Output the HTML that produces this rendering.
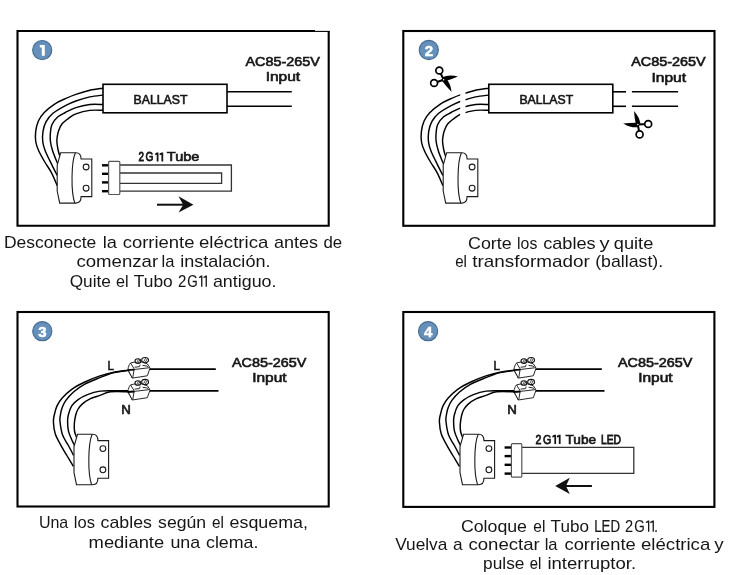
<!DOCTYPE html>
<html><head><meta charset="utf-8"><style>
html,body{margin:0;padding:0;background:#fff;overflow:hidden;}
svg{display:block;will-change:transform;}
text{font-family:"Liberation Sans",sans-serif;}
</style></head><body>
<svg width="744" height="575" viewBox="0 0 744 575">
<rect width="744" height="575" fill="#fff"/>
<path d="M315,31 L17.5,31 L17.5,225.7 L328.7,225.7 L328.7,30.9" fill="none" stroke="#000" stroke-width="2.1"/>
<line x1="314.5" y1="31.4" x2="329.7" y2="31.4" stroke="#000" stroke-width="1.1"/>
<circle cx="42.2" cy="50.1" r="9.6" fill="#6490ba" stroke="#456a90" stroke-width="1.1"/><path transform="translate(0.00,0.00)" d="M39.8,44.9 L44.8,44.9 L44.8,55.7 L41.8,55.7 L41.8,47.5 L39.8,47.5 Z" fill="#fff"/>
<g transform="translate(0,0)" fill="none" stroke="#000" stroke-width="1.45"><path d="M103.00,88.20 C100.80,88.55 94.32,89.27 89.80,90.30 C85.28,91.33 79.97,93.02 75.90,94.40 C71.83,95.78 68.88,97.03 65.40,98.60 C61.92,100.17 58.57,101.45 55.00,103.80 C51.43,106.15 46.77,109.83 44.00,112.70 C41.23,115.57 39.78,117.88 38.40,121.00 C37.02,124.12 36.13,127.90 35.70,131.40 C35.27,134.90 35.30,138.78 35.80,142.00 C36.30,145.22 37.20,147.37 38.70,150.70 C40.20,154.03 42.62,158.23 44.80,162.00 C46.98,165.77 49.73,169.33 51.80,173.30 C53.87,177.27 56.30,183.72 57.20,185.80"/><path d="M103.00,95.10 C100.80,95.40 94.32,95.92 89.80,96.90 C85.28,97.88 79.97,99.55 75.90,101.00 C71.83,102.45 69.22,103.55 65.40,105.60 C61.58,107.65 56.22,110.62 53.00,113.30 C49.78,115.98 47.77,118.68 46.10,121.70 C44.43,124.72 43.55,128.02 43.00,131.40 C42.45,134.78 42.43,138.78 42.80,142.00 C43.17,145.22 44.00,147.52 45.20,150.70 C46.40,153.88 48.00,156.97 50.00,161.10 C52.00,165.23 56.00,173.10 57.20,175.50"/><path d="M103.00,104.50 C100.80,104.50 94.32,103.98 89.80,104.50 C85.28,105.02 79.97,106.27 75.90,107.60 C71.83,108.93 68.40,110.97 65.40,112.50 C62.40,114.03 60.13,114.80 57.90,116.80 C55.67,118.80 53.27,121.60 52.00,124.50 C50.73,127.40 50.55,131.28 50.30,134.20 C50.05,137.12 50.12,139.25 50.50,142.00 C50.88,144.75 51.82,148.08 52.60,150.70 C53.38,153.32 54.32,155.45 55.20,157.70 C56.08,159.95 57.45,163.12 57.90,164.20"/><path d="M103.00,110.30 C100.80,110.32 94.32,109.80 89.80,110.40 C85.28,111.00 79.38,112.62 75.90,113.90 C72.42,115.18 71.20,116.45 68.90,118.10 C66.60,119.75 63.82,121.70 62.10,123.80 C60.38,125.90 59.42,128.50 58.60,130.70 C57.78,132.90 57.48,135.12 57.20,137.00 C56.92,138.88 56.78,140.00 56.90,142.00 C57.02,144.00 57.50,146.92 57.90,149.00 C58.30,151.08 58.90,153.17 59.30,154.50 C59.70,155.83 60.13,156.58 60.30,157.00"/></g>
<g transform="translate(0,0)" fill="#fff" stroke="#1a1a1a" stroke-width="1.1"><path d="M60.7,152.7 L75.9,152.7 C79,152.7 81.1,155 81.1,159 L91.8,159 L91.8,196.6 L81.1,196.6 C81.1,200.5 79,203.1 75.9,203.1 L59.7,203.1 L57.2,191 L57.2,165 Z"/><path d="M75.4,152.7 C71.2,162 70.8,192 74.8,203.1" fill="none"/><circle cx="86.1" cy="167" r="2.9"/><circle cx="86.1" cy="188.2" r="2.9"/></g>
<rect x="103" y="84.3" width="124" height="28.5" fill="#fff" stroke="#000" stroke-width="1.6"/><text x="133.6" y="103.5" font-family="Liberation Sans" font-size="12" fill="#161616" stroke="#161616" stroke-width="0.6" textLength="53.8" lengthAdjust="spacingAndGlyphs">BALLAST</text>
<line x1="227" y1="91.8" x2="291.8" y2="91.8" stroke="#000" stroke-width="1.6"/><line x1="227" y1="106.3" x2="291.8" y2="106.3" stroke="#000" stroke-width="1.6"/>
<text x="245.39999999999998" y="65.8" font-family="Liberation Sans" font-size="12.4" fill="#161616" stroke="#161616" stroke-width="0.6" textLength="74.5" lengthAdjust="spacingAndGlyphs">AC85-265V</text><text x="265.7" y="81.3" font-family="Liberation Sans" font-size="12.8" fill="#161616" stroke="#161616" stroke-width="0.6" textLength="34.5" lengthAdjust="spacingAndGlyphs">Input</text>
<g><line x1="102" y1="165.3" x2="108.8" y2="165.3" stroke="#000" stroke-width="2.4"/><line x1="102" y1="173.8" x2="108.8" y2="173.8" stroke="#000" stroke-width="2.4"/><line x1="102" y1="182.4" x2="108.8" y2="182.4" stroke="#000" stroke-width="2.4"/><line x1="102" y1="191.2" x2="108.8" y2="191.2" stroke="#000" stroke-width="2.4"/><path d="M119.8,165 L231.4,165 L231.4,191.2 L119.8,191.2" fill="none" stroke="#333" stroke-width="1.3"/><path d="M119.8,173 L221.6,173 L221.6,183.4 L119.8,183.4" fill="none" stroke="#333" stroke-width="1.3"/><rect x="108.6" y="161.3" width="11.2" height="33.2" rx="1" fill="#fff" stroke="#555" stroke-width="1.2"/></g><text x="138.60" y="161.3" font-family="Liberation Sans" font-size="12.3" fill="#161616" stroke="#161616" stroke-width="0.82" textLength="5.50" lengthAdjust="spacingAndGlyphs">2</text><text x="145.60" y="161.3" font-family="Liberation Sans" font-size="12.3" fill="#161616" stroke="#161616" stroke-width="0.79" textLength="7.90" lengthAdjust="spacingAndGlyphs">G</text><path d="M156.72,152.39 L158.50,152.39 L158.50,161.60 L156.72,161.60 L156.72,154.75 L155.20,155.19 L155.20,153.50 Z" fill="#161616"/><path d="M161.42,152.39 L163.20,152.39 L163.20,161.60 L161.42,161.60 L161.42,154.75 L159.60,155.19 L159.60,153.50 Z" fill="#161616"/><text x="166.80" y="161.3" font-family="Liberation Sans" font-size="12.3" fill="#161616" stroke="#161616" stroke-width="0.60" textLength="32.60" lengthAdjust="spacingAndGlyphs">Tube</text><line x1="157" y1="204.7" x2="184" y2="204.7" stroke="#111" stroke-width="2"/><path d="M193.4,204.7 L178.5,196.3 L183.2,204.7 L178.5,212.6 Z" fill="#111"/>
<text x="4.00" y="248.3" font-family="Liberation Sans" font-size="16.1" fill="#161616" textLength="92.30" lengthAdjust="spacingAndGlyphs">Desconecte</text><text x="102.70" y="248.3" font-family="Liberation Sans" font-size="16.1" fill="#161616" textLength="14.19" lengthAdjust="spacingAndGlyphs">la</text><text x="122.70" y="248.3" font-family="Liberation Sans" font-size="16.1" fill="#161616" textLength="71.79" lengthAdjust="spacingAndGlyphs">corriente</text><text x="199.00" y="248.3" font-family="Liberation Sans" font-size="16.1" fill="#161616" textLength="69.37" lengthAdjust="spacingAndGlyphs">eléctrica</text><text x="273.90" y="248.3" font-family="Liberation Sans" font-size="16.1" fill="#161616" textLength="44.11" lengthAdjust="spacingAndGlyphs">antes</text><text x="323.50" y="248.3" font-family="Liberation Sans" font-size="16.1" fill="#161616" textLength="18.71" lengthAdjust="spacingAndGlyphs">de</text>
<text x="76.40" y="267.3" font-family="Liberation Sans" font-size="16.1" fill="#161616" textLength="81.79" lengthAdjust="spacingAndGlyphs">comenzar</text><text x="161.60" y="267.3" font-family="Liberation Sans" font-size="16.1" fill="#161616" textLength="12.89" lengthAdjust="spacingAndGlyphs">la</text><text x="180.20" y="267.3" font-family="Liberation Sans" font-size="16.1" fill="#161616" textLength="90.30" lengthAdjust="spacingAndGlyphs">instalación.</text>
<text x="69.70" y="286.7" font-family="Liberation Sans" font-size="16.1" fill="#161616" textLength="41.20" lengthAdjust="spacingAndGlyphs">Quite</text><text x="116.00" y="286.7" font-family="Liberation Sans" font-size="16.1" fill="#161616" textLength="12.61" lengthAdjust="spacingAndGlyphs">el</text><text x="133.80" y="286.7" font-family="Liberation Sans" font-size="16.1" fill="#161616" textLength="38.90" lengthAdjust="spacingAndGlyphs">Tubo</text><text x="177.90" y="286.7" font-family="Liberation Sans" font-size="16.1" fill="#161616" stroke="#161616" stroke-width="0.06" textLength="8.30" lengthAdjust="spacingAndGlyphs">2</text><text x="187.30" y="286.7" font-family="Liberation Sans" font-size="16.1" fill="#161616" stroke="#161616" stroke-width="0.17" textLength="10.50" lengthAdjust="spacingAndGlyphs">G</text><path d="M201.10,275.43 L202.40,275.43 L202.40,286.70 L201.10,286.70 L201.10,277.53 L198.90,278.11 L198.90,276.88 Z" fill="#161616"/><path d="M205.60,275.43 L206.90,275.43 L206.90,286.70 L205.60,286.70 L205.60,277.53 L203.50,278.11 L203.50,276.88 Z" fill="#161616"/><text x="212.90" y="286.7" font-family="Liberation Sans" font-size="16.1" fill="#161616" textLength="63.59" lengthAdjust="spacingAndGlyphs">antiguo.</text>
<rect x="403.3" y="31" width="311.20" height="194.80" fill="none" stroke="#000" stroke-width="2.1"/>
<circle cx="428.8" cy="50" r="9.6" fill="#6490ba" stroke="#456a90" stroke-width="1.1"/><text x="428.90000000000003" y="55.5" text-anchor="middle" font-family="Liberation Sans" font-weight="bold" font-size="15" fill="#fff" stroke="#fff" stroke-width="0.5">2</text>
<g transform="translate(385.7,0)" fill="none" stroke="#000" stroke-width="1.45"><path d="M103.00,88.20 C100.80,88.55 94.32,89.27 89.80,90.30 C85.28,91.33 79.97,93.02 75.90,94.40 C71.83,95.78 68.88,97.03 65.40,98.60 C61.92,100.17 58.57,101.45 55.00,103.80 C51.43,106.15 46.77,109.83 44.00,112.70 C41.23,115.57 39.78,117.88 38.40,121.00 C37.02,124.12 36.13,127.90 35.70,131.40 C35.27,134.90 35.30,138.78 35.80,142.00 C36.30,145.22 37.20,147.37 38.70,150.70 C40.20,154.03 42.62,158.23 44.80,162.00 C46.98,165.77 49.73,169.33 51.80,173.30 C53.87,177.27 56.30,183.72 57.20,185.80"/><path d="M103.00,95.10 C100.80,95.40 94.32,95.92 89.80,96.90 C85.28,97.88 79.97,99.55 75.90,101.00 C71.83,102.45 69.22,103.55 65.40,105.60 C61.58,107.65 56.22,110.62 53.00,113.30 C49.78,115.98 47.77,118.68 46.10,121.70 C44.43,124.72 43.55,128.02 43.00,131.40 C42.45,134.78 42.43,138.78 42.80,142.00 C43.17,145.22 44.00,147.52 45.20,150.70 C46.40,153.88 48.00,156.97 50.00,161.10 C52.00,165.23 56.00,173.10 57.20,175.50"/><path d="M103.00,104.50 C100.80,104.50 94.32,103.98 89.80,104.50 C85.28,105.02 79.97,106.27 75.90,107.60 C71.83,108.93 68.40,110.97 65.40,112.50 C62.40,114.03 60.13,114.80 57.90,116.80 C55.67,118.80 53.27,121.60 52.00,124.50 C50.73,127.40 50.55,131.28 50.30,134.20 C50.05,137.12 50.12,139.25 50.50,142.00 C50.88,144.75 51.82,148.08 52.60,150.70 C53.38,153.32 54.32,155.45 55.20,157.70 C56.08,159.95 57.45,163.12 57.90,164.20"/><path d="M103.00,110.30 C100.80,110.32 94.32,109.80 89.80,110.40 C85.28,111.00 79.38,112.62 75.90,113.90 C72.42,115.18 71.20,116.45 68.90,118.10 C66.60,119.75 63.82,121.70 62.10,123.80 C60.38,125.90 59.42,128.50 58.60,130.70 C57.78,132.90 57.48,135.12 57.20,137.00 C56.92,138.88 56.78,140.00 56.90,142.00 C57.02,144.00 57.50,146.92 57.90,149.00 C58.30,151.08 58.90,153.17 59.30,154.50 C59.70,155.83 60.13,156.58 60.30,157.00"/></g>
<rect x="460.2" y="84" width="5.3" height="32" fill="#fff"/>
<g transform="translate(386,0)" fill="#fff" stroke="#1a1a1a" stroke-width="1.1"><path d="M60.7,152.7 L75.9,152.7 C79,152.7 81.1,155 81.1,159 L91.8,159 L91.8,196.6 L81.1,196.6 C81.1,200.5 79,203.1 75.9,203.1 L59.7,203.1 L57.2,191 L57.2,165 Z"/><path d="M75.4,152.7 C71.2,162 70.8,192 74.8,203.1" fill="none"/><circle cx="86.1" cy="167" r="2.9"/><circle cx="86.1" cy="188.2" r="2.9"/></g>
<rect x="488.8" y="84.3" width="124" height="28.5" fill="#fff" stroke="#000" stroke-width="1.6"/><text x="519.4000000000001" y="103.5" font-family="Liberation Sans" font-size="12" fill="#161616" stroke="#161616" stroke-width="0.6" textLength="53.8" lengthAdjust="spacingAndGlyphs">BALLAST</text>
<line x1="613" y1="91.8" x2="626" y2="91.8" stroke="#000" stroke-width="1.6"/><line x1="613" y1="106.3" x2="626" y2="106.3" stroke="#000" stroke-width="1.6"/>
<line x1="631.9" y1="91.8" x2="678.1" y2="91.8" stroke="#000" stroke-width="1.6"/><line x1="631.9" y1="106.3" x2="678.1" y2="106.3" stroke="#000" stroke-width="1.6"/>
<text x="631.2" y="66.0" font-family="Liberation Sans" font-size="12.4" fill="#161616" stroke="#161616" stroke-width="0.6" textLength="74.5" lengthAdjust="spacingAndGlyphs">AC85-265V</text><text x="651.5" y="81.5" font-family="Liberation Sans" font-size="12.8" fill="#161616" stroke="#161616" stroke-width="0.6" textLength="34.5" lengthAdjust="spacingAndGlyphs">Input</text>
<g><line x1="443.6" y1="79.7" x2="439.3" y2="70.5" stroke="#000" stroke-width="2"/><line x1="443.6" y1="79.7" x2="434.1" y2="83.0" stroke="#000" stroke-width="2"/><path d="M441.90,77.60 Q448.74,74.28 458.0,76.5 Q451.13,79.60 442.86,81.89 Z" fill="#000"/><path d="M444.97,77.37 Q450.46,82.59 451.6,92.0 Q446.31,86.69 441.29,79.77 Z" fill="#000"/><circle cx="439.3" cy="70.5" r="3.45" fill="#fff" stroke="#000" stroke-width="1.7"/><circle cx="434.1" cy="83.0" r="3.45" fill="#fff" stroke="#000" stroke-width="1.7"/><circle cx="443.6" cy="79.7" r="0.75" fill="#fff"/></g>
<g><line x1="637.8" y1="124.6" x2="648.2" y2="124.0" stroke="#000" stroke-width="2"/><line x1="637.8" y1="124.6" x2="639.6" y2="134.4" stroke="#000" stroke-width="2"/><path d="M638.80,127.11 Q631.33,128.26 623.2,123.4 Q630.63,122.47 639.16,122.72 Z" fill="#000"/><path d="M640.45,125.11 Q640.23,117.73 634.0,110.9 Q634.42,118.16 636.21,126.29 Z" fill="#000"/><circle cx="648.2" cy="124.0" r="3.45" fill="#fff" stroke="#000" stroke-width="1.7"/><circle cx="639.6" cy="134.4" r="3.45" fill="#fff" stroke="#000" stroke-width="1.7"/><circle cx="637.8" cy="124.6" r="0.75" fill="#fff"/></g>
<text x="468.00" y="248.9" font-family="Liberation Sans" font-size="16.1" fill="#161616" textLength="43.71" lengthAdjust="spacingAndGlyphs">Corte</text><text x="517.10" y="248.9" font-family="Liberation Sans" font-size="16.1" fill="#161616" textLength="20.21" lengthAdjust="spacingAndGlyphs">los</text><text x="543.20" y="248.9" font-family="Liberation Sans" font-size="16.1" fill="#161616" textLength="52.49" lengthAdjust="spacingAndGlyphs">cables</text><text x="599.47" y="248.9" font-family="Liberation Sans" font-size="16.1" fill="#161616" textLength="10.06" lengthAdjust="spacingAndGlyphs">y</text><text x="613.80" y="248.9" font-family="Liberation Sans" font-size="16.1" fill="#161616" textLength="39.51" lengthAdjust="spacingAndGlyphs">quite</text>
<text x="455.20" y="267.3" font-family="Liberation Sans" font-size="16.1" fill="#161616" stroke="#161616" stroke-width="0.04" textLength="11.80" lengthAdjust="spacingAndGlyphs">el</text><text x="472.20" y="267.3" font-family="Liberation Sans" font-size="16.1" fill="#161616" textLength="117.59" lengthAdjust="spacingAndGlyphs">transformador</text><text x="595.20" y="267.3" font-family="Liberation Sans" font-size="16.1" fill="#161616" textLength="67.99" lengthAdjust="spacingAndGlyphs">(ballast).</text>
<rect x="17.5" y="312" width="311.20" height="194.50" fill="none" stroke="#000" stroke-width="2.1"/>
<circle cx="42.3" cy="331.2" r="9.6" fill="#6490ba" stroke="#456a90" stroke-width="1.1"/><text x="42.4" y="336.7" text-anchor="middle" font-family="Liberation Sans" font-weight="bold" font-size="15" fill="#fff" stroke="#fff" stroke-width="0.5">3</text>
<g transform="translate(0,0)" fill="none" stroke="#000" stroke-width="1.45"><path d="M128.60,370.10 C126.17,370.45 118.77,371.23 114.00,372.20 C109.23,373.17 104.87,374.27 100.00,375.90 C95.13,377.53 89.52,379.77 84.80,382.00 C80.08,384.23 75.47,386.63 71.70,389.30 C67.93,391.97 64.65,395.23 62.20,398.00 C59.75,400.77 58.32,403.07 57.00,405.90 C55.68,408.73 54.90,412.32 54.30,415.00 C53.70,417.68 53.23,418.83 53.40,422.00 C53.57,425.17 53.93,429.90 55.30,434.00 C56.67,438.10 59.52,442.77 61.60,446.60 C63.68,450.43 65.83,453.70 67.80,457.00 C69.77,460.30 72.47,464.83 73.40,466.40"/><path d="M128.60,370.40 C126.17,370.77 118.77,371.40 114.00,372.60 C109.23,373.80 104.87,375.68 100.00,377.60 C95.13,379.52 89.22,381.70 84.80,384.10 C80.38,386.50 76.68,389.23 73.50,392.00 C70.32,394.77 67.58,398.10 65.70,400.70 C63.82,403.30 63.08,405.22 62.20,407.60 C61.32,409.98 60.77,412.68 60.40,415.00 C60.03,417.32 59.63,418.15 60.00,421.50 C60.37,424.85 61.20,431.10 62.60,435.10 C64.00,439.10 66.57,442.12 68.40,445.50 C70.23,448.88 72.73,453.75 73.60,455.40"/><path d="M128.60,390.70 C126.17,390.70 118.77,390.63 114.00,390.70 C109.23,390.77 104.43,390.45 100.00,391.10 C95.57,391.75 91.10,393.15 87.40,394.60 C83.70,396.05 80.42,397.92 77.80,399.80 C75.18,401.68 73.28,403.37 71.70,405.90 C70.12,408.43 68.98,412.40 68.30,415.00 C67.62,417.60 67.58,418.85 67.60,421.50 C67.62,424.15 67.75,427.95 68.40,430.90 C69.05,433.85 70.47,436.77 71.50,439.20 C72.53,441.63 74.08,444.45 74.60,445.50"/><path d="M128.60,391.80 C125.57,391.80 115.17,391.20 110.40,391.80 C105.63,392.40 103.40,394.22 100.00,395.40 C96.60,396.58 92.97,397.45 90.00,398.90 C87.03,400.35 84.23,402.33 82.20,404.10 C80.17,405.87 78.90,407.60 77.80,409.50 C76.70,411.40 76.18,413.08 75.60,415.50 C75.02,417.92 74.47,421.33 74.30,424.00 C74.13,426.67 74.20,429.22 74.60,431.50 C75.00,433.78 76.35,436.67 76.70,437.70"/></g><g transform="translate(16.8,281.6)" fill="#fff" stroke="#1a1a1a" stroke-width="1.1"><path d="M60.7,152.7 L75.9,152.7 C79,152.7 81.1,155 81.1,159 L91.8,159 L91.8,196.6 L81.1,196.6 C81.1,200.5 79,203.1 75.9,203.1 L59.7,203.1 L57.2,191 L57.2,165 Z"/><path d="M75.4,152.7 C71.2,162 70.8,192 74.8,203.1" fill="none"/><circle cx="86.1" cy="167" r="2.9"/><circle cx="86.1" cy="188.2" r="2.9"/></g><g transform="translate(0,0)"><line x1="148" y1="369.1" x2="215.8" y2="369.1" stroke="#000" stroke-width="1.6"/><line x1="148" y1="390.9" x2="218.5" y2="390.9" stroke="#000" stroke-width="1.6"/><g transform="translate(0.00,0.00)" fill="#fff" stroke="#111" stroke-width="0.9" stroke-linejoin="round"><path d="M128.0,369.9 L128.2,367.8 L129.4,364.5 L130.6,362.9 L134.6,362.1 L141,361.8 L147.3,363.8 L149.6,367.2 L149.9,368.6 L147.3,375.8 L132.3,378.1 Z"/><path d="M134.1,369.5 L149.6,367.7 M134.1,369.5 L132.8,377.6 M130.6,363.1 L134.1,368.8" fill="none"/><path d="M128.2,370.8 L132.3,378.1" fill="none" stroke-dasharray="1.1,0.7"/><path d="M134.6,367.2 L139.4,366.7 L140.2,364.6 M142.6,365.4 L146.2,365.9 L148,366.6" fill="none"/><ellipse cx="137.9" cy="361.1" rx="2.9" ry="2.3" stroke-width="1.1"/><ellipse cx="145.1" cy="360.1" rx="3.4" ry="2.6" stroke-width="1.1"/><path d="M127.5,370.1 L134.3,369.6" fill="none" stroke="#000" stroke-width="1.9"/><path d="M136.5,362.8 L138.6,359.3 M137.9,363.3 L139.8,360.0 M143.6,361.9 L145.6,358.2 M145.1,362.6 L147.1,359.0" fill="none" stroke-width="0.75"/></g><g transform="translate(0.00,21.90)" fill="#fff" stroke="#111" stroke-width="0.9" stroke-linejoin="round"><path d="M128.0,369.9 L128.2,367.8 L129.4,364.5 L130.6,362.9 L134.6,362.1 L141,361.8 L147.3,363.8 L149.6,367.2 L149.9,368.6 L147.3,375.8 L132.3,378.1 Z"/><path d="M134.1,369.5 L149.6,367.7 M134.1,369.5 L132.8,377.6 M130.6,363.1 L134.1,368.8" fill="none"/><path d="M128.2,370.8 L132.3,378.1" fill="none" stroke-dasharray="1.1,0.7"/><path d="M134.6,367.2 L139.4,366.7 L140.2,364.6 M142.6,365.4 L146.2,365.9 L148,366.6" fill="none"/><ellipse cx="137.9" cy="361.1" rx="2.9" ry="2.3" stroke-width="1.1"/><ellipse cx="145.1" cy="360.1" rx="3.4" ry="2.6" stroke-width="1.1"/><path d="M127.5,370.1 L134.3,369.6" fill="none" stroke="#000" stroke-width="1.9"/><path d="M136.5,362.8 L138.6,359.3 M137.9,363.3 L139.8,360.0 M143.6,361.9 L145.6,358.2 M145.1,362.6 L147.1,359.0" fill="none" stroke-width="0.75"/></g><text x="107.5" y="370.1" font-family="Liberation Sans" font-size="12.2" fill="#161616" stroke="#161616" stroke-width="0.6" textLength="6.3999999999999995" lengthAdjust="spacingAndGlyphs">L</text><text x="121.3" y="414" font-family="Liberation Sans" font-size="12.2" fill="#161616" stroke="#161616" stroke-width="0.6" textLength="9.600000000000001" lengthAdjust="spacingAndGlyphs">N</text></g>
<text x="231.89999999999998" y="366.9" font-family="Liberation Sans" font-size="12.4" fill="#161616" stroke="#161616" stroke-width="0.6" textLength="74.5" lengthAdjust="spacingAndGlyphs">AC85-265V</text><text x="252.2" y="382.4" font-family="Liberation Sans" font-size="12.8" fill="#161616" stroke="#161616" stroke-width="0.6" textLength="34.5" lengthAdjust="spacingAndGlyphs">Input</text>
<text x="38.90" y="527.8" font-family="Liberation Sans" font-size="16.1" fill="#161616" textLength="29.39" lengthAdjust="spacingAndGlyphs">Una</text><text x="73.80" y="527.8" font-family="Liberation Sans" font-size="16.1" fill="#161616" textLength="21.11" lengthAdjust="spacingAndGlyphs">los</text><text x="100.60" y="527.8" font-family="Liberation Sans" font-size="16.1" fill="#161616" textLength="51.39" lengthAdjust="spacingAndGlyphs">cables</text><text x="158.10" y="527.8" font-family="Liberation Sans" font-size="16.1" fill="#161616" textLength="48.09" lengthAdjust="spacingAndGlyphs">según</text><text x="212.10" y="527.8" font-family="Liberation Sans" font-size="16.1" fill="#161616" stroke="#161616" stroke-width="0.03" textLength="11.91" lengthAdjust="spacingAndGlyphs">el</text><text x="229.60" y="527.8" font-family="Liberation Sans" font-size="16.1" fill="#161616" textLength="78.39" lengthAdjust="spacingAndGlyphs">esquema,</text>
<text x="88.60" y="547.5" font-family="Liberation Sans" font-size="16.1" fill="#161616" textLength="75.60" lengthAdjust="spacingAndGlyphs">mediante</text><text x="170.40" y="547.5" font-family="Liberation Sans" font-size="16.1" fill="#161616" textLength="29.79" lengthAdjust="spacingAndGlyphs">una</text><text x="206.00" y="547.5" font-family="Liberation Sans" font-size="16.1" fill="#161616" textLength="52.41" lengthAdjust="spacingAndGlyphs">clema.</text>
<rect x="403.3" y="312" width="311.10" height="194.90" fill="none" stroke="#000" stroke-width="2.1"/>
<circle cx="428.1" cy="331.2" r="9.6" fill="#6490ba" stroke="#456a90" stroke-width="1.1"/><text x="428.20000000000005" y="336.7" text-anchor="middle" font-family="Liberation Sans" font-weight="bold" font-size="15" fill="#fff" stroke="#fff" stroke-width="0.5">4</text>
<g transform="translate(386,0)" fill="none" stroke="#000" stroke-width="1.45"><path d="M128.60,370.10 C126.17,370.45 118.77,371.23 114.00,372.20 C109.23,373.17 104.87,374.27 100.00,375.90 C95.13,377.53 89.52,379.77 84.80,382.00 C80.08,384.23 75.47,386.63 71.70,389.30 C67.93,391.97 64.65,395.23 62.20,398.00 C59.75,400.77 58.32,403.07 57.00,405.90 C55.68,408.73 54.90,412.32 54.30,415.00 C53.70,417.68 53.23,418.83 53.40,422.00 C53.57,425.17 53.93,429.90 55.30,434.00 C56.67,438.10 59.52,442.77 61.60,446.60 C63.68,450.43 65.83,453.70 67.80,457.00 C69.77,460.30 72.47,464.83 73.40,466.40"/><path d="M128.60,370.40 C126.17,370.77 118.77,371.40 114.00,372.60 C109.23,373.80 104.87,375.68 100.00,377.60 C95.13,379.52 89.22,381.70 84.80,384.10 C80.38,386.50 76.68,389.23 73.50,392.00 C70.32,394.77 67.58,398.10 65.70,400.70 C63.82,403.30 63.08,405.22 62.20,407.60 C61.32,409.98 60.77,412.68 60.40,415.00 C60.03,417.32 59.63,418.15 60.00,421.50 C60.37,424.85 61.20,431.10 62.60,435.10 C64.00,439.10 66.57,442.12 68.40,445.50 C70.23,448.88 72.73,453.75 73.60,455.40"/><path d="M128.60,390.70 C126.17,390.70 118.77,390.63 114.00,390.70 C109.23,390.77 104.43,390.45 100.00,391.10 C95.57,391.75 91.10,393.15 87.40,394.60 C83.70,396.05 80.42,397.92 77.80,399.80 C75.18,401.68 73.28,403.37 71.70,405.90 C70.12,408.43 68.98,412.40 68.30,415.00 C67.62,417.60 67.58,418.85 67.60,421.50 C67.62,424.15 67.75,427.95 68.40,430.90 C69.05,433.85 70.47,436.77 71.50,439.20 C72.53,441.63 74.08,444.45 74.60,445.50"/><path d="M128.60,391.80 C125.57,391.80 115.17,391.20 110.40,391.80 C105.63,392.40 103.40,394.22 100.00,395.40 C96.60,396.58 92.97,397.45 90.00,398.90 C87.03,400.35 84.23,402.33 82.20,404.10 C80.17,405.87 78.90,407.60 77.80,409.50 C76.70,411.40 76.18,413.08 75.60,415.50 C75.02,417.92 74.47,421.33 74.30,424.00 C74.13,426.67 74.20,429.22 74.60,431.50 C75.00,433.78 76.35,436.67 76.70,437.70"/></g><g transform="translate(402.8,281.6)" fill="#fff" stroke="#1a1a1a" stroke-width="1.1"><path d="M60.7,152.7 L75.9,152.7 C79,152.7 81.1,155 81.1,159 L91.8,159 L91.8,196.6 L81.1,196.6 C81.1,200.5 79,203.1 75.9,203.1 L59.7,203.1 L57.2,191 L57.2,165 Z"/><path d="M75.4,152.7 C71.2,162 70.8,192 74.8,203.1" fill="none"/><circle cx="86.1" cy="167" r="2.9"/><circle cx="86.1" cy="188.2" r="2.9"/></g><g transform="translate(386,0)"><line x1="148" y1="369.1" x2="215.8" y2="369.1" stroke="#000" stroke-width="1.6"/><line x1="148" y1="390.9" x2="218.5" y2="390.9" stroke="#000" stroke-width="1.6"/><g transform="translate(0.00,0.00)" fill="#fff" stroke="#111" stroke-width="0.9" stroke-linejoin="round"><path d="M128.0,369.9 L128.2,367.8 L129.4,364.5 L130.6,362.9 L134.6,362.1 L141,361.8 L147.3,363.8 L149.6,367.2 L149.9,368.6 L147.3,375.8 L132.3,378.1 Z"/><path d="M134.1,369.5 L149.6,367.7 M134.1,369.5 L132.8,377.6 M130.6,363.1 L134.1,368.8" fill="none"/><path d="M128.2,370.8 L132.3,378.1" fill="none" stroke-dasharray="1.1,0.7"/><path d="M134.6,367.2 L139.4,366.7 L140.2,364.6 M142.6,365.4 L146.2,365.9 L148,366.6" fill="none"/><ellipse cx="137.9" cy="361.1" rx="2.9" ry="2.3" stroke-width="1.1"/><ellipse cx="145.1" cy="360.1" rx="3.4" ry="2.6" stroke-width="1.1"/><path d="M127.5,370.1 L134.3,369.6" fill="none" stroke="#000" stroke-width="1.9"/><path d="M136.5,362.8 L138.6,359.3 M137.9,363.3 L139.8,360.0 M143.6,361.9 L145.6,358.2 M145.1,362.6 L147.1,359.0" fill="none" stroke-width="0.75"/></g><g transform="translate(0.00,21.90)" fill="#fff" stroke="#111" stroke-width="0.9" stroke-linejoin="round"><path d="M128.0,369.9 L128.2,367.8 L129.4,364.5 L130.6,362.9 L134.6,362.1 L141,361.8 L147.3,363.8 L149.6,367.2 L149.9,368.6 L147.3,375.8 L132.3,378.1 Z"/><path d="M134.1,369.5 L149.6,367.7 M134.1,369.5 L132.8,377.6 M130.6,363.1 L134.1,368.8" fill="none"/><path d="M128.2,370.8 L132.3,378.1" fill="none" stroke-dasharray="1.1,0.7"/><path d="M134.6,367.2 L139.4,366.7 L140.2,364.6 M142.6,365.4 L146.2,365.9 L148,366.6" fill="none"/><ellipse cx="137.9" cy="361.1" rx="2.9" ry="2.3" stroke-width="1.1"/><ellipse cx="145.1" cy="360.1" rx="3.4" ry="2.6" stroke-width="1.1"/><path d="M127.5,370.1 L134.3,369.6" fill="none" stroke="#000" stroke-width="1.9"/><path d="M136.5,362.8 L138.6,359.3 M137.9,363.3 L139.8,360.0 M143.6,361.9 L145.6,358.2 M145.1,362.6 L147.1,359.0" fill="none" stroke-width="0.75"/></g><text x="107.5" y="370.1" font-family="Liberation Sans" font-size="12.2" fill="#161616" stroke="#161616" stroke-width="0.6" textLength="6.3999999999999995" lengthAdjust="spacingAndGlyphs">L</text><text x="121.3" y="414" font-family="Liberation Sans" font-size="12.2" fill="#161616" stroke="#161616" stroke-width="0.6" textLength="9.600000000000001" lengthAdjust="spacingAndGlyphs">N</text></g>
<text x="617.9000000000001" y="366.9" font-family="Liberation Sans" font-size="12.4" fill="#161616" stroke="#161616" stroke-width="0.6" textLength="74.5" lengthAdjust="spacingAndGlyphs">AC85-265V</text><text x="638.2" y="382.4" font-family="Liberation Sans" font-size="12.8" fill="#161616" stroke="#161616" stroke-width="0.6" textLength="34.5" lengthAdjust="spacingAndGlyphs">Input</text>
<g><line x1="504.6" y1="447.5" x2="511.6" y2="447.5" stroke="#000" stroke-width="2.4"/><line x1="504.6" y1="456.1" x2="511.6" y2="456.1" stroke="#000" stroke-width="2.4"/><line x1="504.6" y1="464.8" x2="511.6" y2="464.8" stroke="#000" stroke-width="2.4"/><line x1="504.6" y1="473.6" x2="511.6" y2="473.6" stroke="#000" stroke-width="2.4"/><path d="M521.8,447.4 L633.8,447.4 L633.8,473.4 L521.8,473.4" fill="none" stroke="#333" stroke-width="1.3"/><rect x="511.4" y="443.7" width="10.4" height="33.5" rx="1" fill="#fff" stroke="#555" stroke-width="1.2"/></g><text x="535.50" y="443.8" font-family="Liberation Sans" font-size="12.6" fill="#161616" stroke="#161616" stroke-width="0.77" textLength="5.90" lengthAdjust="spacingAndGlyphs">2</text><text x="543.10" y="443.8" font-family="Liberation Sans" font-size="12.6" fill="#161616" stroke="#161616" stroke-width="0.75" textLength="8.40" lengthAdjust="spacingAndGlyphs">G</text><path d="M554.32,434.68 L556.10,434.68 L556.10,444.10 L554.32,444.10 L554.32,437.05 L552.40,437.50 L552.40,435.81 Z" fill="#161616"/><path d="M558.82,434.68 L560.60,434.68 L560.60,444.10 L558.82,444.10 L558.82,437.05 L557.00,437.50 L557.00,435.81 Z" fill="#161616"/><text x="565.50" y="443.8" font-family="Liberation Sans" font-size="12.6" fill="#161616" stroke="#161616" stroke-width="0.60" textLength="30.70" lengthAdjust="spacingAndGlyphs">Tube</text><text x="600.90" y="443.8" font-family="Liberation Sans" font-size="12.6" fill="#161616" stroke="#161616" stroke-width="0.79" textLength="20.20" lengthAdjust="spacingAndGlyphs">LED</text><line x1="565" y1="486" x2="591.9" y2="486" stroke="#111" stroke-width="2"/><path d="M555.2,486 L569.8,477.8 L566,486 L569.8,494 Z" fill="#111"/>
<text x="460.90" y="531.7" font-family="Liberation Sans" font-size="16.1" fill="#161616" textLength="66.10" lengthAdjust="spacingAndGlyphs">Coloque</text><text x="533.30" y="531.7" font-family="Liberation Sans" font-size="16.1" fill="#161616" stroke="#161616" stroke-width="0.02" textLength="12.01" lengthAdjust="spacingAndGlyphs">el</text><text x="550.60" y="531.7" font-family="Liberation Sans" font-size="16.1" fill="#161616" textLength="38.30" lengthAdjust="spacingAndGlyphs">Tubo</text><text x="594.20" y="531.7" font-family="Liberation Sans" font-size="16.1" fill="#161616" stroke="#161616" stroke-width="0.19" textLength="25.80" lengthAdjust="spacingAndGlyphs">LED</text><text x="625.10" y="531.7" font-family="Liberation Sans" font-size="16.1" fill="#161616" stroke="#161616" stroke-width="0.08" textLength="8.10" lengthAdjust="spacingAndGlyphs">2</text><text x="634.20" y="531.7" font-family="Liberation Sans" font-size="16.1" fill="#161616" stroke="#161616" stroke-width="0.17" textLength="10.50" lengthAdjust="spacingAndGlyphs">G</text><path d="M648.00,520.43 L649.30,520.43 L649.30,531.70 L648.00,531.70 L648.00,522.53 L645.80,523.11 L645.80,521.88 Z" fill="#161616"/><path d="M652.60,520.43 L653.90,520.43 L653.90,531.70 L652.60,531.70 L652.60,522.53 L650.10,523.11 L650.10,521.88 Z" fill="#161616"/><text x="654.36" y="531.7" font-family="Liberation Sans" font-size="16.1" fill="#161616" stroke="#161616" stroke-width="0.22" textLength="3.58" lengthAdjust="spacingAndGlyphs">.</text>
<text x="395.20" y="550.4" font-family="Liberation Sans" font-size="16.1" fill="#161616" textLength="52.19" lengthAdjust="spacingAndGlyphs">Vuelva</text><text x="452.90" y="550.4" font-family="Liberation Sans" font-size="16.1" fill="#161616" textLength="9.59" lengthAdjust="spacingAndGlyphs">a</text><text x="468.40" y="550.4" font-family="Liberation Sans" font-size="16.1" fill="#161616" textLength="71.41" lengthAdjust="spacingAndGlyphs">conectar</text><text x="544.70" y="550.4" font-family="Liberation Sans" font-size="16.1" fill="#161616" textLength="12.89" lengthAdjust="spacingAndGlyphs">la</text><text x="564.50" y="550.4" font-family="Liberation Sans" font-size="16.1" fill="#161616" textLength="71.29" lengthAdjust="spacingAndGlyphs">corriente</text><text x="641.00" y="550.4" font-family="Liberation Sans" font-size="16.1" fill="#161616" textLength="69.28" lengthAdjust="spacingAndGlyphs">eléctrica</text><text x="714.30" y="550.4" font-family="Liberation Sans" font-size="16.1" fill="#161616" textLength="9.40" lengthAdjust="spacingAndGlyphs">y</text>
<text x="483.10" y="569.1" font-family="Liberation Sans" font-size="16.1" fill="#161616" textLength="41.29" lengthAdjust="spacingAndGlyphs">pulse</text><text x="529.70" y="569.1" font-family="Liberation Sans" font-size="16.1" fill="#161616" stroke="#161616" stroke-width="0.07" textLength="11.50" lengthAdjust="spacingAndGlyphs">el</text><text x="547.40" y="569.1" font-family="Liberation Sans" font-size="16.1" fill="#161616" textLength="88.71" lengthAdjust="spacingAndGlyphs">interruptor.</text>
</svg>
</body></html>
